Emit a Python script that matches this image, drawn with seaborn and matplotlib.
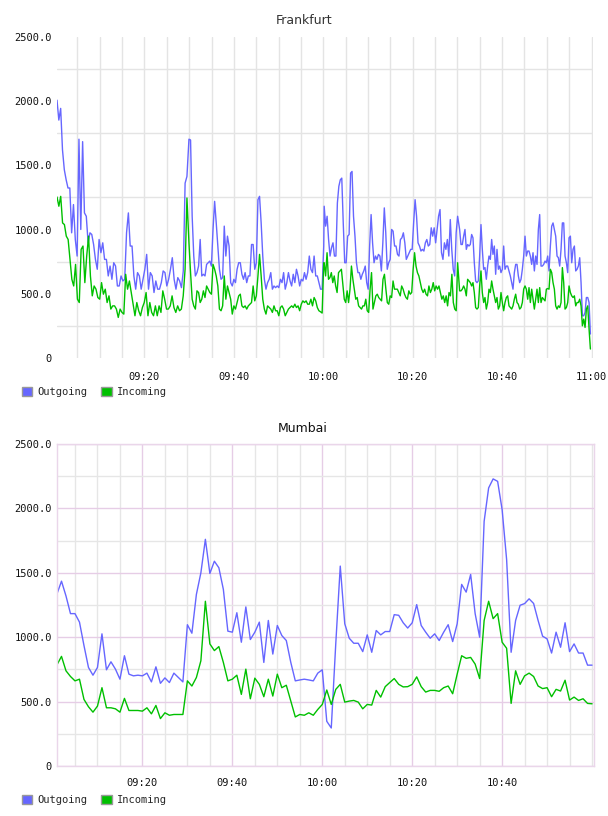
import numpy as np
import pandas as pd
import matplotlib
matplotlib.use("Agg")
import matplotlib.pyplot as plt
import matplotlib.dates as mdates
from matplotlib.patches import Patch
from matplotlib.ticker import FixedLocator, FixedFormatter
import seaborn as sns

DAY = "2020-01-01 "
series_names = ["Outgoing", "Incoming"]
series_colors = ["#6666ff", "#00c000"]

# ---------------- Frankfurt (four consecutive capture segments) ----------------
fra_seg_bounds = [("09:00:26", "09:29:30"), ("09:29:57", "10:00:06"),
                  ("10:00:12", "10:30:03"), ("10:30:30", "10:59:45")]

fra_out_1 = [2008, 1853, 1944, 1621, 1466, 1388, 1324, 1324, 975, 1195,
             923, 794, 1704, 1001, 1685, 1130, 1104, 897, 975, 962,
             884, 768, 691, 923, 820, 897, 768, 768, 639, 716,
             613, 742, 716, 561, 561, 639, 600, 613, 975, 1130,
             872, 872, 639, 536, 665, 639, 536, 613, 691, 807,
             536, 665, 639, 510, 600, 536, 536, 587, 678, 665,
             561, 613, 691, 781, 613, 536, 626, 600, 548, 678,
             1362, 1414]
fra_in_1 = [1254, 1182, 1259, 1052, 1039, 949, 923, 768, 613, 561,
            729, 458, 432, 846, 872, 587, 794, 949, 639, 484,
            561, 536, 471, 458, 587, 497, 536, 432, 484, 381,
            406, 406, 381, 316, 381, 355, 342, 652, 536, 600,
            510, 419, 329, 432, 368, 329, 393, 432, 510, 329,
            432, 355, 329, 406, 329, 406, 355, 523, 458, 381,
            381, 406, 484, 393, 355, 406, 368, 381, 484, 691,
            1246]

fra_out_2 = [1704, 1698, 1104, 794, 639, 665, 716, 923, 639, 652,
             639, 729, 742, 755, 716, 1001, 1220, 1052, 872, 691,
             613, 626, 1027, 794, 949, 872, 587, 561, 613, 587,
             691, 742, 742, 652, 613, 665, 587, 639, 639, 884,
             884, 691, 742, 1233, 1259, 1052, 794, 613, 536, 587,
             613, 665, 536, 561, 548, 561, 548, 613, 587, 665,
             536, 587, 665, 600, 561, 652, 587, 691, 639, 561,
             613, 600, 665, 613, 665, 794, 691, 665, 794, 639,
             639, 587, 536, 536, 872]
fra_in_2 = [897, 665, 458, 406, 381, 523, 510, 432, 458, 523,
            471, 561, 536, 510, 497, 729, 691, 639, 561, 381,
            368, 406, 639, 458, 561, 510, 458, 342, 406, 381,
            432, 484, 497, 406, 393, 406, 381, 406, 419, 432,
            561, 445, 484, 639, 807, 639, 458, 381, 342, 406,
            393, 381, 355, 406, 368, 368, 329, 393, 406, 381,
            329, 355, 381, 393, 406, 393, 419, 393, 406, 368,
            419, 445, 432, 445, 419, 419, 458, 406, 471, 445,
            393, 368, 360, 350, 742]

fra_out_3 = [1182, 1027, 1104, 923, 794, 859, 897, 794, 794, 1207,
             1337, 1388, 1401, 1052, 742, 742, 949, 962, 1440, 1453,
             1104, 949, 742, 665, 665, 613, 652, 678, 716, 587,
             536, 872, 1117, 897, 742, 794, 768, 807, 794, 678,
             897, 1169, 975, 691, 742, 768, 1001, 988, 872, 872,
             807, 794, 923, 936, 975, 897, 768, 794, 820, 846,
             846, 1052, 1233, 1104, 897, 872, 833, 846, 833, 897,
             923, 872, 884, 1014, 949, 1014, 897, 1001, 1104, 1156,
             820, 768, 897, 846, 923, 794, 1078, 846, 691, 639,
             975, 1104]
fra_in_3 = [742, 639, 820, 613, 626, 665, 587, 639, 561, 510,
            665, 678, 691, 574, 458, 432, 523, 432, 536, 716,
            613, 536, 458, 471, 406, 393, 381, 406, 406, 458,
            368, 355, 536, 665, 381, 432, 484, 497, 471, 458,
            445, 613, 652, 536, 432, 419, 484, 471, 600, 536,
            536, 536, 510, 484, 561, 536, 497, 471, 458, 523,
            497, 510, 691, 820, 716, 665, 639, 587, 536, 510,
            536, 497, 484, 561, 510, 536, 587, 523, 561, 536,
            561, 510, 458, 484, 432, 484, 406, 510, 484, 652,
            432, 381, 368, 742]

fra_out_4 = [1001, 884, 884, 949, 1001, 846, 884, 872, 884, 962,
             936, 742, 600, 587, 600, 794, 1039, 846, 691, 704,
             613, 716, 794, 768, 923, 807, 872, 652, 846, 691,
             716, 665, 691, 872, 691, 716, 716, 678, 639, 587,
             536, 665, 729, 729, 639, 587, 613, 691, 794, 949,
             794, 833, 833, 794, 729, 820, 678, 794, 729, 1001,
             1117, 716, 716, 729, 755, 742, 794, 678, 872, 1027,
             1052, 1001, 949, 794, 781, 716, 846, 1052, 1052, 794,
             742, 665, 936, 949, 742, 846, 872, 678, 691, 716,
             781, 587, 329, 329, 355, 471, 471, 432, 187]
fra_in_4 = [523, 523, 536, 561, 536, 484, 613, 600, 587, 561,
            587, 510, 393, 381, 393, 561, 678, 510, 432, 471,
            381, 432, 536, 510, 600, 536, 484, 432, 471, 381,
            406, 510, 432, 368, 432, 471, 484, 406, 393, 381,
            406, 458, 497, 432, 419, 381, 393, 432, 536, 561,
            536, 458, 548, 432, 536, 458, 381, 458, 536, 432,
            548, 432, 471, 458, 445, 536, 541, 536, 691, 665,
            587, 536, 406, 381, 406, 393, 432, 704, 587, 381,
            393, 432, 561, 510, 484, 471, 484, 406, 432, 432,
            458, 406, 251, 303, 238, 381, 406, 226, 70]

# ---------------- Mumbai (one sample per minute, 09:01 - 11:00) ----------------
mum_start, mum_end = "09:01", "11:00"
mum_out = [1337, 1435, 1320, 1183, 1183, 1117, 935, 765, 705, 765,
           1026, 747, 809, 752, 674, 856, 713, 700, 705, 700,
           721, 653, 770, 642, 684, 648, 721, 687, 653, 1097,
           1031, 1332, 1500, 1760, 1495, 1590, 1539, 1371, 1047, 1039,
           1190, 961, 1235, 982, 1039, 1117, 804, 1130, 869, 1091,
           1013, 974, 804, 661, 668, 674, 668,
           661, 721, 747, 347, 295, 950, 1552, 1104, 992, 953,
           953, 888, 1018, 883, 1052, 1018, 1044, 1044, 1175, 1170,
           1112, 1071, 1112, 1253, 1091, 1039, 992, 1026, 974, 1039,
           1097, 966, 1104, 1410, 1350, 1487, 1183, 1000, 1900, 2159,
           2229, 2210, 1990, 1603, 883, 1130, 1248, 1261, 1298, 1262,
           1130, 1008, 987, 877, 1039, 922, 1112, 888, 948, 877,
           877, 783, 783]
mum_in = [786, 851, 739, 695, 661, 674, 517, 460, 418, 465,
          608, 452, 452, 444, 418, 525, 431, 431, 431, 426,
          452, 405, 470, 368, 413, 394, 400, 400, 400, 661,
          621, 687, 817, 1279, 948, 896, 927, 804, 661, 674,
          705, 556, 752, 522, 682, 634, 538, 674, 543, 713,
          608, 627, 504, 381, 400, 394, 413,
          394, 439, 478, 590, 478, 595, 634, 496, 504, 509,
          496, 444, 478, 473, 587, 535, 616, 648, 679, 634,
          614, 616, 634, 692, 616, 574, 587, 587, 580, 608,
          621, 561, 713, 856, 836, 843, 791, 679, 1130, 1279,
          1144, 1183, 961, 914, 486, 739, 634, 700, 721, 695,
          621, 601, 608, 538, 595, 582, 666, 512, 535, 509,
          522, 486, 483]

y_ticks = [0, 500, 1000, 1500, 2000, 2500]
y_tick_labels = ["0", "500.0", "1000.0", "1500.0", "2000.0", "2500.0"]
y_minor = [250, 750, 1250, 1750, 2250]


def seg_frame(t0, t1, values, name):
    times = pd.date_range(DAY + t0, DAY + t1, periods=len(values))
    return pd.DataFrame({"time": times, "value": values, "series": name})


fra_frames = []
for (t0, t1), o, i in zip(fra_seg_bounds,
                          [fra_out_1, fra_out_2, fra_out_3, fra_out_4],
                          [fra_in_1, fra_in_2, fra_in_3, fra_in_4]):
    fra_frames.append(seg_frame(t0, t1, o, "Outgoing"))
    fra_frames.append(seg_frame(t0, t1, i, "Incoming"))
fra_df = pd.concat(fra_frames, ignore_index=True)

mum_df = pd.concat([seg_frame(mum_start, mum_end, mum_out, "Outgoing"),
                    seg_frame(mum_start, mum_end, mum_in, "Incoming")],
                   ignore_index=True)

sns.set_theme(style="white")
plt.rcParams["font.family"] = ["DejaVu Sans"]
MONO = "DejaVu Sans Mono"

fig = plt.figure(figsize=(6.08, 8.16), dpi=100)
W, H = 608.0, 816.0
ax1 = fig.add_axes([57 / W, 1 - 358 / H, (593 - 57) / W, (358 - 37) / H])
ax2 = fig.add_axes([57 / W, 1 - 766 / H, (594 - 57) / W, (766 - 444) / H])

palette = dict(zip(series_names, series_colors))
for ax, df in ((ax1, fra_df), (ax2, mum_df)):
    sns.lineplot(data=df, x="time", y="value", hue="series", hue_order=series_names,
                 palette=palette, estimator=None, legend=False, ax=ax, linewidth=1.0)
    ax.set_xlabel("")
    ax.set_ylabel("")
    ax.set_ylim(0, 2500)
    ax.yaxis.set_major_locator(FixedLocator(y_ticks))
    ax.yaxis.set_major_formatter(FixedFormatter(y_tick_labels))
    ax.yaxis.set_minor_locator(FixedLocator(y_minor))
    ax.xaxis.set_minor_locator(mdates.MinuteLocator(byminute=range(0, 60, 5)))
    ax.xaxis.set_major_formatter(mdates.DateFormatter("%H:%M"))
    ax.tick_params(axis="both", which="both", length=0)
    ax.tick_params(axis="y", pad=3.6, labelsize=7.5, labelcolor="#111111")
    ax.tick_params(axis="x", labelsize=7.5, labelcolor="#111111")
    for lab in ax.get_xticklabels() + ax.get_yticklabels():
        lab.set_family(MONO)
    ax.set_axisbelow(True)

# --- Frankfurt axes ---
ax1.set_xlim(pd.Timestamp(DAY + "09:00:26"), pd.Timestamp(DAY + "11:00:20"))
ax1.xaxis.set_major_locator(FixedLocator(mdates.date2num(
    pd.to_datetime([DAY + t for t in ["09:20", "09:40", "10:00", "10:20", "10:40", "11:00"]]))))
ax1.tick_params(axis="x", pad=10)
ax1.grid(False)
ax1.grid(True, which="both", axis="x", color="#e4e4e4", linewidth=1.0)
ax1.grid(True, which="minor", axis="y", color="#e4e4e4", linewidth=1.0)
for s in ax1.spines.values():
    s.set_visible(False)
for lab in ax1.get_xticklabels() + ax1.get_yticklabels():
    lab.set_family(MONO)

# --- Mumbai axes ---
ax2.set_xlim(pd.Timestamp(DAY + "09:01:00"), pd.Timestamp(DAY + "11:00:26"))
ax2.xaxis.set_major_locator(FixedLocator(mdates.date2num(
    pd.to_datetime([DAY + t for t in ["09:20", "09:40", "10:00", "10:20", "10:40"]]))))
ax2.tick_params(axis="x", pad=8.5)
ax2.grid(False)
ax2.grid(True, which="major", axis="both", color="#e6cde6", linewidth=1.0)
ax2.grid(True, which="minor", axis="both", color="#e6e6e6", linewidth=1.0)
for s in ax2.spines.values():
    s.set_visible(True)
    s.set_color("#ead6ea")
    s.set_linewidth(1.0)
for lab in ax2.get_xticklabels() + ax2.get_yticklabels():
    lab.set_family(MONO)

# Titles
fig.text(304 / W, 1 - 20 / H, "Frankfurt", ha="center", va="center", fontsize=9, color="#333333")
fig.text(303 / W, 1 - 429 / H, "Mumbai", ha="center", va="center", fontsize=9, color="#111111")

# Legends
handles = [Patch(facecolor=c, edgecolor="#999999", linewidth=1.0, label=n)
           for n, c in zip(series_names, series_colors)]
for ycen in (392, 800):
    fig.legend(handles=handles, loc="center left", bbox_to_anchor=(22 / W, 1 - ycen / H),
               ncol=2, frameon=False, prop={"family": MONO, "size": 7.5},
               handlelength=1.0, handleheight=1.0, handletextpad=0.5,
               columnspacing=1.3, borderpad=0, borderaxespad=0)

fig.savefig("out.png", dpi=100)
